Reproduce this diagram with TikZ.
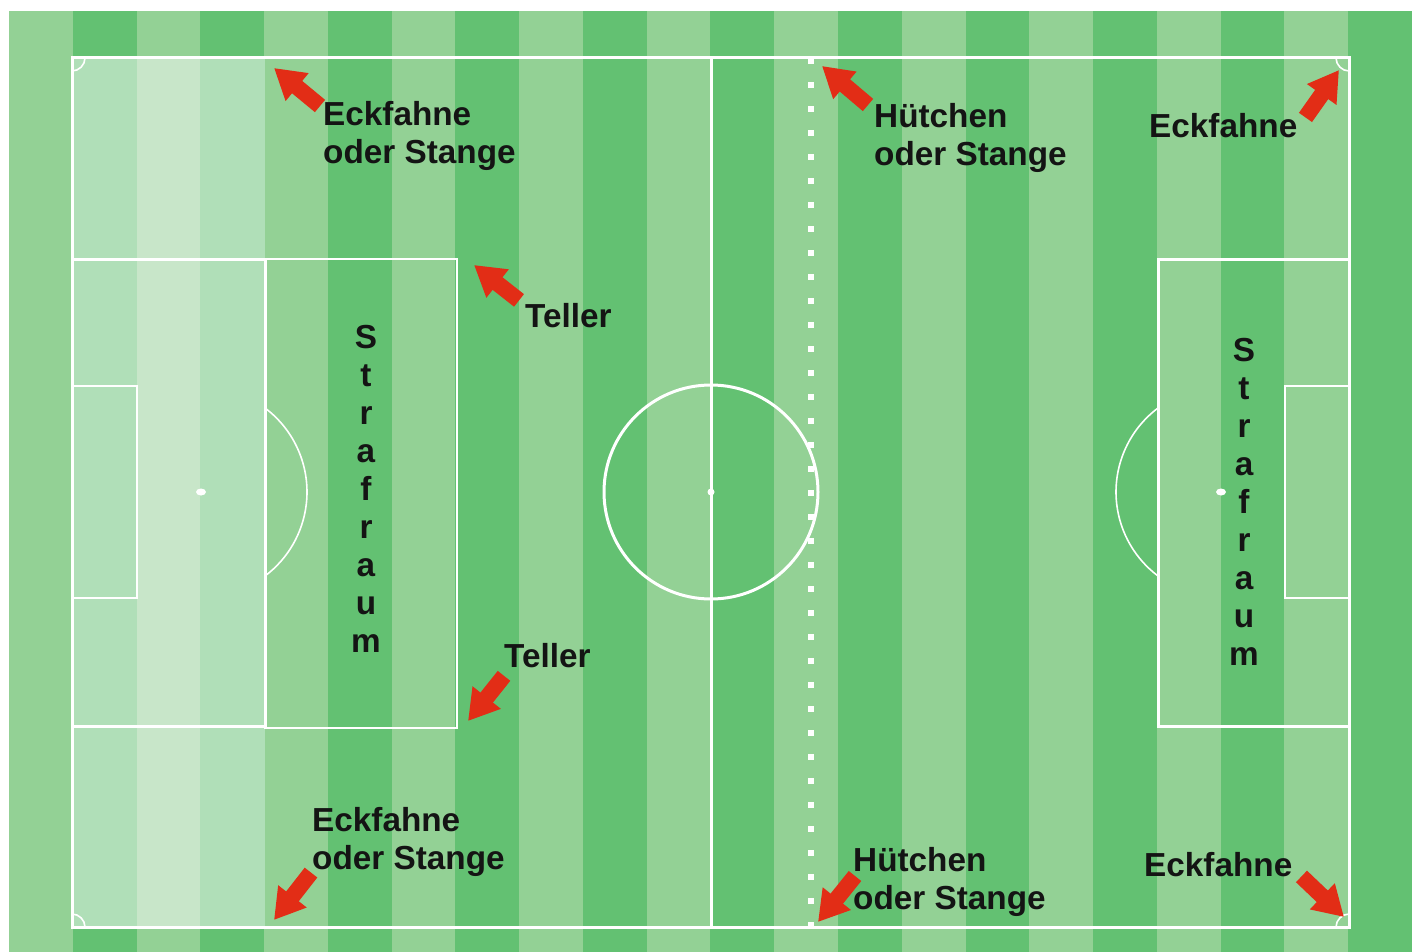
\documentclass[tikz,border=0pt]{standalone}
\usepackage{fontspec}
\setmainfont{Liberation Sans}
\usetikzlibrary{arrows.meta}

\definecolor{rasendark}{HTML}{63C172}
\definecolor{rasenlight}{HTML}{93D195}
\definecolor{fadedark}{HTML}{B0DFB8}
\definecolor{fadelight}{HTML}{C8E6C9}
\definecolor{pfeilred}{HTML}{E22D16}

\tikzset{
  lbl/.style={inner sep=0pt,anchor=north west,align=left,text=black!92,
    font=\fontsize{33.3}{38}\selectfont\bfseries},
  vlbl/.style={lbl,anchor=center,align=center},
  pfeil/.style={pfeilred,line width=16pt,-{Triangle[length=30pt,width=34pt]}},
  linie/.style={white,line width=3pt},
  mittel/.style={white,line width=2.2pt},
  duenn/.style={white,line width=1.6pt},
}

\begin{document}
\begin{tikzpicture}[x=1pt,y=-1pt]
  \useasboundingbox (0,0) rectangle (1418,952);

  % stripes
  \fill[rasendark] (9,11) rectangle (1412,952);
  \foreach \i in {0,2,...,20}
    \fill[rasenlight] ({9+63.77*\i},11) rectangle ({9+63.77*(\i+1)},952);
  \fill[fadedark] (72,58) rectangle (265,927);
  \fill[fadelight] (137,58) rectangle (200,927);

  % lines
  \draw[linie] (72,58) rectangle (1349,927);
  \draw[linie] (711,58) -- (711,927);
  \draw[linie] (711,492) circle (107);
  \draw[linie] (72,259) rectangle (265,726);
  \draw[duenn] (265,259) rectangle (457,728);
  \draw[mittel] (72,386) rectangle (137,598);
  \draw[duenn] (265,408) arc[start angle=-53.13,end angle=53.13,radius=105];
  \draw[linie] (1158,259) rectangle (1349,726);
  \draw[mittel] (1285,386) rectangle (1349,598);
  \draw[duenn] (1158,408) arc[start angle=233.13,end angle=126.87,radius=105];
  \draw[duenn] (85,58) .. controls (85,65) and (79,71) .. (72,71);
  \draw[duenn] (85,927) .. controls (85,920) and (79,914) .. (72,914);
  \draw[duenn] (1336,58) .. controls (1336,65) and (1342,71) .. (1349,71);
  \draw[duenn] (1336,927) .. controls (1336,920) and (1342,914) .. (1349,914);

  % spots
  \fill[white] (201,492) ellipse (5 and 3.5);
  \fill[white] (711,492) circle (3.5);
  \fill[white] (1221,492) ellipse (5 and 3.5);
  \foreach \k in {0,...,36}
    \fill[white] (808,{58+24*\k}) rectangle (814,{64+24*\k});

  % labels
  \node[lbl] (eckTL) at (323,101) {Eckfahne\\oder Stange};
  \node[lbl] (huetT) at (874,103) {Hütchen\\oder Stange};
  \node[lbl] (eckTR) at (1149,113) {Eckfahne};
  \node[lbl] (tellT) at (525,303) {Teller};
  \node[lbl] (tellB) at (504,643) {Teller};
  \node[lbl] (eckBL) at (312,807) {Eckfahne\\oder Stange};
  \node[lbl] (huetB) at (853,847) {Hütchen\\oder Stange};
  \node[lbl] (eckBR) at (1144,852) {Eckfahne};
  \node[vlbl] (strafL) at (366,489) {S\\t\\r\\a\\f\\r\\a\\u\\m};
  \node[vlbl] (strafR) at (1244,502) {S\\t\\r\\a\\f\\r\\a\\u\\m};

  % arrows
  \coordinate (fTL) at (274,68);
  \coordinate (fHT) at (822,66);
  \coordinate (fTR) at (1339,70);
  \coordinate (fTT) at (474,265);
  \coordinate (fTB) at (468,721);
  \coordinate (fBL) at (274,920);
  \coordinate (fHB) at (818,922);
  \coordinate (fBR) at (1344,917);
  \draw[pfeil] (eckTL.north west) ++(-3,5) -- (fTL);
  \draw[pfeil] (huetT.north west) ++(-6,2) -- (fHT);
  \draw[pfeil] (eckTR.east) ++(8,-8) -- (fTR);
  \draw[pfeil] (tellT.west) ++(-6,-15) -- (fTT);
  \draw[pfeil] (tellB.south west) ++(0,8) -- (fTB);
  \draw[pfeil] (eckBL.south west) ++(-1,-4) -- (fBL);
  \draw[pfeil] (huetB.north west) ++(2,29) -- (fHB);
  \draw[pfeil] (eckBR.east) ++(9,12) -- (fBR);
\end{tikzpicture}
\end{document}
